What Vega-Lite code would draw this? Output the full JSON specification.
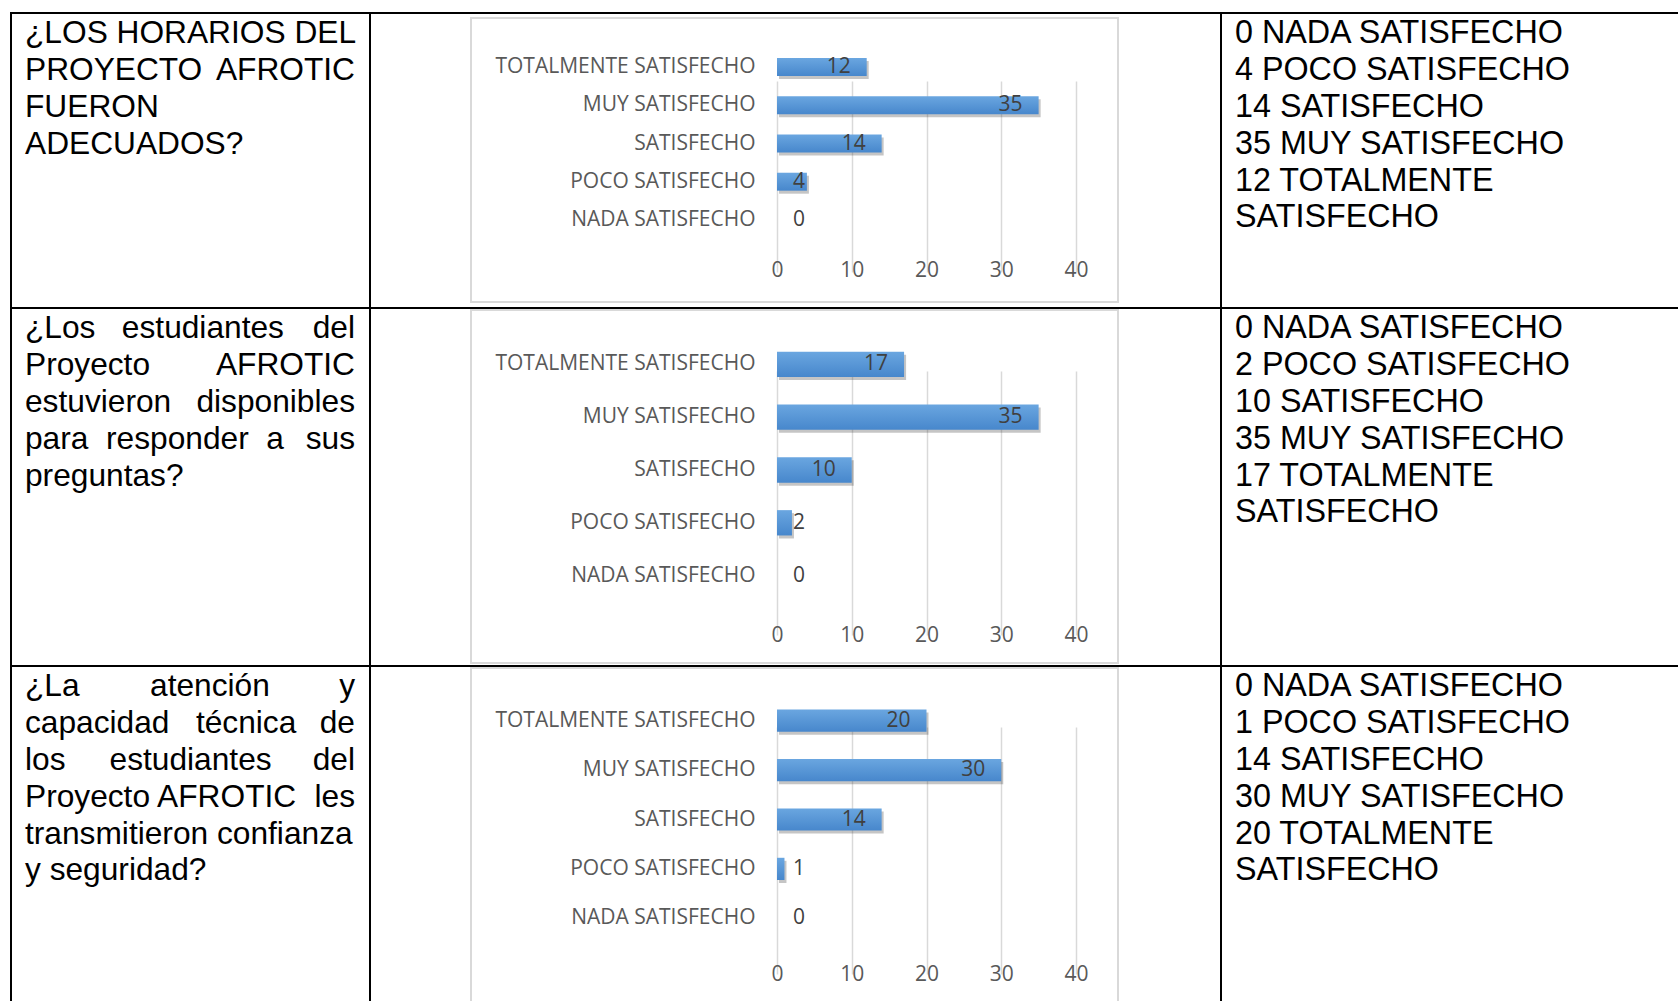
{
  "$schema": "https://vega.github.io/schema/vega-lite/v6.json",
  "padding": {"left": 10, "top": 12, "right": 0, "bottom": 0},
  "background": "white",
  "config": {"view": {"stroke": null}, "concat": {"spacing": 0}},
  "datasets": {
    "bars": [
      {"row": 1, "cat": "NADA SATISFECHO", "value": 0},
      {"row": 1, "cat": "POCO SATISFECHO", "value": 4},
      {"row": 1, "cat": "SATISFECHO", "value": 14},
      {"row": 1, "cat": "MUY SATISFECHO", "value": 35},
      {"row": 1, "cat": "TOTALMENTE SATISFECHO", "value": 12},
      {"row": 2, "cat": "NADA SATISFECHO", "value": 0},
      {"row": 2, "cat": "POCO SATISFECHO", "value": 2},
      {"row": 2, "cat": "SATISFECHO", "value": 10},
      {"row": 2, "cat": "MUY SATISFECHO", "value": 35},
      {"row": 2, "cat": "TOTALMENTE SATISFECHO", "value": 17},
      {"row": 3, "cat": "NADA SATISFECHO", "value": 0},
      {"row": 3, "cat": "POCO SATISFECHO", "value": 1},
      {"row": 3, "cat": "SATISFECHO", "value": 14},
      {"row": 3, "cat": "MUY SATISFECHO", "value": 30},
      {"row": 3, "cat": "TOTALMENTE SATISFECHO", "value": 20}
    ],
    "q": [
      {"row": 1, "line": 1, "left": "¿LOS HORARIOS DEL"},
      {"row": 1, "line": 2, "left": "PROYECTO", "right": "AFROTIC"},
      {"row": 1, "line": 3, "left": "FUERON"},
      {"row": 1, "line": 4, "left": "ADECUADOS?"},
      {"row": 2, "line": 1, "left": "¿Los\u00a0\u00a0\u00a0estudiantes", "right": "del"},
      {"row": 2, "line": 2, "left": "Proyecto", "right": "AFROTIC"},
      {"row": 2, "line": 3, "left": "estuvieron", "right": "disponibles"},
      {"row": 2, "line": 4, "left": "para\u00a0\u00a0responder\u00a0\u00a0a", "right": "sus"},
      {"row": 2, "line": 5, "left": "preguntas?"},
      {"row": 3, "line": 1, "left": "¿La\u00a0\u00a0\u00a0\u00a0\u00a0\u00a0\u00a0\u00a0atención", "right": "y"},
      {"row": 3, "line": 2, "left": "capacidad\u00a0\u00a0\u00a0técnica", "right": "de"},
      {"row": 3, "line": 3, "left": "los\u00a0\u00a0\u00a0\u00a0\u00a0estudiantes", "right": "del"},
      {"row": 3, "line": 4, "left": "Proyecto AFROTIC", "right": "les"},
      {"row": 3, "line": 5, "left": "transmitieron confianza"},
      {"row": 3, "line": 6, "left": "y seguridad?"}
    ],
    "a": [
      {"row": 1, "line": 1, "text": "0 NADA SATISFECHO"},
      {"row": 1, "line": 2, "text": "4 POCO SATISFECHO"},
      {"row": 1, "line": 3, "text": "14 SATISFECHO"},
      {"row": 1, "line": 4, "text": "35 MUY SATISFECHO"},
      {"row": 1, "line": 5, "text": "12 TOTALMENTE"},
      {"row": 1, "line": 6, "text": "SATISFECHO"},
      {"row": 2, "line": 1, "text": "0 NADA SATISFECHO"},
      {"row": 2, "line": 2, "text": "2 POCO SATISFECHO"},
      {"row": 2, "line": 3, "text": "10 SATISFECHO"},
      {"row": 2, "line": 4, "text": "35 MUY SATISFECHO"},
      {"row": 2, "line": 5, "text": "17 TOTALMENTE"},
      {"row": 2, "line": 6, "text": "SATISFECHO"},
      {"row": 3, "line": 1, "text": "0 NADA SATISFECHO"},
      {"row": 3, "line": 2, "text": "1 POCO SATISFECHO"},
      {"row": 3, "line": 3, "text": "14 SATISFECHO"},
      {"row": 3, "line": 4, "text": "30 MUY SATISFECHO"},
      {"row": 3, "line": 5, "text": "20 TOTALMENTE"},
      {"row": 3, "line": 6, "text": "SATISFECHO"}
    ]
  },
  "spacing": 0,
  "vconcat": [
    {"width": 1668, "height": 2, "data": {"values": []}, "mark": "point", "view": {"fill": "black", "stroke": null}},
    {
      "spacing": 0,
      "hconcat": [
        {"width": 2, "height": 293, "data": {"values": []}, "mark": "point", "view": {"fill": "black", "stroke": null}},
        {
          "width": 357, "height": 293,
          "data": {"name": "q"},
          "transform": [{"filter": "datum.row === 1"}],
          "encoding": {"y": {"field": "line", "type": "quantitative", "scale": {"domain": [0, 1], "range": [0, 36.9], "zero": false, "nice": false}, "axis": null}},
          "layer": [
            {"mark": {"type": "text", "align": "left", "baseline": "bottom", "dx": 13, "dy": -1, "font": "Liberation Sans", "fontSize": 31.7, "color": "black"},
             "encoding": {"x": {"value": 0}, "text": {"field": "left"}}},
            {"transform": [{"filter": "isValid(datum.right)"}],
             "mark": {"type": "text", "align": "right", "baseline": "bottom", "dx": -14, "dy": -1, "font": "Liberation Sans", "fontSize": 31.7, "color": "black"},
             "encoding": {"x": {"value": "width"}, "text": {"field": "right"}}}
          ]
        },
        {"width": 2, "height": 293, "data": {"values": []}, "mark": "point", "view": {"fill": "black", "stroke": null}},
        {
          "spacing": 0,
          "vconcat": [
            {"width": 849, "height": 3, "data": {"values": []}, "mark": "point"},
            {
              "spacing": 0,
              "hconcat": [
                {"width": 99, "height": 286, "data": {"values": []}, "mark": "point"},
                {"width": 2, "height": 286, "data": {"values": []}, "mark": "point", "view": {"fill": "#d9d9d9", "stroke": null}},
                {
                  "spacing": 0,
                  "vconcat": [
                    {"width": 645, "height": 2, "data": {"values": []}, "mark": "point", "view": {"fill": "#d9d9d9", "stroke": null}},
                    {
                      "width": 645, "height": 282,
                      "data": {"name": "bars"},
                      "transform": [{"filter": "datum.row === 1"}],
                      "encoding": {
                        "y": {"field": "cat", "type": "nominal",
                              "scale": {"domain": ["TOTALMENTE SATISFECHO", "MUY SATISFECHO", "SATISFECHO", "POCO SATISFECHO", "NADA SATISFECHO"], "range": [29, 220], "paddingInner": 0.53, "paddingOuter": 0.265},
                              "axis": {"title": null, "domain": false, "ticks": false, "tickSize": 0, "labelPadding": 22, "offset": -305, "labelFont": "Open Sans", "labelFontSize": 21, "labelColor": "#595959", "labelLimit": 500}},
                        "x": {"field": "value", "type": "quantitative", "scale": {"domain": [0, 40], "range": [305, 604], "nice": false},
                              "axis": {"title": null, "values": [0, 10, 20, 30, 40], "domain": false, "ticks": false, "tickSize": 0, "labelPadding": 0, "labelBaseline": "middle", "offset": -30.5, "labelFont": "Open Sans", "labelFontSize": 21, "labelColor": "#595959", "labelFlush": false, "grid": true, "gridColor": "#d9d9d9", "gridWidth": 1.5}}
                      },
                      "layer": [
                        {"mark": {"type": "bar", "color": "#404040", "opacity": 0.3, "xOffset": 2, "x2Offset": 2, "yOffset": 3, "y2Offset": 3}},
                        {"mark": {"type": "bar", "color": {"gradient": "linear", "x1": 0, "y1": 0, "x2": 0, "y2": 1, "stops": [{"offset": 0, "color": "#6AA6E0"}, {"offset": 1, "color": "#4787CC"}]}}},
                        {"transform": [{"filter": "datum.value >= 6"}],
                         "mark": {"type": "text", "align": "right", "baseline": "middle", "dx": -16, "font": "Open Sans", "fontSize": 21, "color": "#404040"},
                         "encoding": {"text": {"field": "value", "type": "quantitative"}}},
                        {"transform": [{"filter": "datum.value < 6"}],
                         "mark": {"type": "text", "align": "center", "baseline": "middle", "dx": 22, "font": "Open Sans", "fontSize": 21, "color": "#404040"},
                         "encoding": {"x": {"datum": 0, "type": "quantitative", "scale": {"domain": [0, 40], "range": [305, 604], "nice": false},
                              "axis": {"title": null, "values": [0, 10, 20, 30, 40], "domain": false, "ticks": false, "tickSize": 0, "labelPadding": 0, "labelBaseline": "middle", "offset": -30.5, "labelFont": "Open Sans", "labelFontSize": 21, "labelColor": "#595959", "labelFlush": false, "grid": true, "gridColor": "#d9d9d9", "gridWidth": 1.5}},
                                      "text": {"field": "value", "type": "quantitative"}}}
                      ]
                    },
                    {"width": 645, "height": 2, "data": {"values": []}, "mark": "point", "view": {"fill": "#d9d9d9", "stroke": null}}
                  ]
                },
                {"width": 2, "height": 286, "data": {"values": []}, "mark": "point", "view": {"fill": "#d9d9d9", "stroke": null}},
                {"width": 101, "height": 286, "data": {"values": []}, "mark": "point"}
              ]
            },
            {"width": 849, "height": 4, "data": {"values": []}, "mark": "point"}
          ]
        },
        {"width": 2, "height": 293, "data": {"values": []}, "mark": "point", "view": {"fill": "black", "stroke": null}},
        {
          "width": 456, "height": 293,
          "data": {"name": "a"},
          "transform": [{"filter": "datum.row === 1"}],
          "mark": {"type": "text", "align": "left", "baseline": "bottom", "dx": 13, "dy": -1, "font": "Liberation Sans", "fontSize": 32.3, "color": "black"},
          "encoding": {
            "x": {"value": 0},
            "y": {"field": "line", "type": "quantitative", "scale": {"domain": [0, 1], "range": [0, 36.9], "zero": false, "nice": false}, "axis": null},
            "text": {"field": "text"}
          }
        }
      ]
    },
    {"width": 1668, "height": 2, "data": {"values": []}, "mark": "point", "view": {"fill": "black", "stroke": null}},
    {
      "spacing": 0,
      "hconcat": [
        {"width": 2, "height": 356, "data": {"values": []}, "mark": "point", "view": {"fill": "black", "stroke": null}},
        {
          "width": 357, "height": 356,
          "data": {"name": "q"},
          "transform": [{"filter": "datum.row === 2"}],
          "encoding": {"y": {"field": "line", "type": "quantitative", "scale": {"domain": [0, 1], "range": [0, 36.9], "zero": false, "nice": false}, "axis": null}},
          "layer": [
            {"mark": {"type": "text", "align": "left", "baseline": "bottom", "dx": 13, "dy": -1, "font": "Liberation Sans", "fontSize": 31.7, "color": "black"},
             "encoding": {"x": {"value": 0}, "text": {"field": "left"}}},
            {"transform": [{"filter": "isValid(datum.right)"}],
             "mark": {"type": "text", "align": "right", "baseline": "bottom", "dx": -14, "dy": -1, "font": "Liberation Sans", "fontSize": 31.7, "color": "black"},
             "encoding": {"x": {"value": "width"}, "text": {"field": "right"}}}
          ]
        },
        {"width": 2, "height": 356, "data": {"values": []}, "mark": "point", "view": {"fill": "black", "stroke": null}},
        {
          "spacing": 0,
          "vconcat": [
            {
              "spacing": 0,
              "hconcat": [
                {"width": 99, "height": 355, "data": {"values": []}, "mark": "point"},
                {"width": 2, "height": 355, "data": {"values": []}, "mark": "point", "view": {"fill": "#d9d9d9", "stroke": null}},
                {
                  "spacing": 0,
                  "vconcat": [
                    {"width": 645, "height": 2, "data": {"values": []}, "mark": "point", "view": {"fill": "#d9d9d9", "stroke": null}},
                    {
                      "width": 645, "height": 351,
                      "data": {"name": "bars"},
                      "transform": [{"filter": "datum.row === 2"}],
                      "encoding": {
                        "y": {"field": "cat", "type": "nominal",
                              "scale": {"domain": ["TOTALMENTE SATISFECHO", "MUY SATISFECHO", "SATISFECHO", "POCO SATISFECHO", "NADA SATISFECHO"], "range": [27, 291], "paddingInner": 0.52, "paddingOuter": 0.26},
                              "axis": {"title": null, "domain": false, "ticks": false, "tickSize": 0, "labelPadding": 22, "offset": -305, "labelFont": "Open Sans", "labelFontSize": 21, "labelColor": "#595959", "labelLimit": 500}},
                        "x": {"field": "value", "type": "quantitative", "scale": {"domain": [0, 40], "range": [305, 604], "nice": false},
                              "axis": {"title": null, "values": [0, 10, 20, 30, 40], "domain": false, "ticks": false, "tickSize": 0, "labelPadding": 0, "labelBaseline": "middle", "offset": -27, "labelFont": "Open Sans", "labelFontSize": 21, "labelColor": "#595959", "labelFlush": false, "grid": true, "gridColor": "#d9d9d9", "gridWidth": 1.5}}
                      },
                      "layer": [
                        {"mark": {"type": "bar", "color": "#404040", "opacity": 0.3, "xOffset": 2, "x2Offset": 2, "yOffset": 3, "y2Offset": 3}},
                        {"mark": {"type": "bar", "color": {"gradient": "linear", "x1": 0, "y1": 0, "x2": 0, "y2": 1, "stops": [{"offset": 0, "color": "#6AA6E0"}, {"offset": 1, "color": "#4787CC"}]}}},
                        {"transform": [{"filter": "datum.value >= 6"}],
                         "mark": {"type": "text", "align": "right", "baseline": "middle", "dx": -16, "font": "Open Sans", "fontSize": 21, "color": "#404040"},
                         "encoding": {"text": {"field": "value", "type": "quantitative"}}},
                        {"transform": [{"filter": "datum.value < 6"}],
                         "mark": {"type": "text", "align": "center", "baseline": "middle", "dx": 22, "font": "Open Sans", "fontSize": 21, "color": "#404040"},
                         "encoding": {"x": {"datum": 0, "type": "quantitative", "scale": {"domain": [0, 40], "range": [305, 604], "nice": false},
                              "axis": {"title": null, "values": [0, 10, 20, 30, 40], "domain": false, "ticks": false, "tickSize": 0, "labelPadding": 0, "labelBaseline": "middle", "offset": -27, "labelFont": "Open Sans", "labelFontSize": 21, "labelColor": "#595959", "labelFlush": false, "grid": true, "gridColor": "#d9d9d9", "gridWidth": 1.5}},
                                      "text": {"field": "value", "type": "quantitative"}}}
                      ]
                    },
                    {"width": 645, "height": 2, "data": {"values": []}, "mark": "point", "view": {"fill": "#d9d9d9", "stroke": null}}
                  ]
                },
                {"width": 2, "height": 355, "data": {"values": []}, "mark": "point", "view": {"fill": "#d9d9d9", "stroke": null}},
                {"width": 101, "height": 355, "data": {"values": []}, "mark": "point"}
              ]
            },
            {"width": 849, "height": 1, "data": {"values": []}, "mark": "point"}
          ]
        },
        {"width": 2, "height": 356, "data": {"values": []}, "mark": "point", "view": {"fill": "black", "stroke": null}},
        {
          "width": 456, "height": 356,
          "data": {"name": "a"},
          "transform": [{"filter": "datum.row === 2"}],
          "mark": {"type": "text", "align": "left", "baseline": "bottom", "dx": 13, "dy": -1, "font": "Liberation Sans", "fontSize": 32.3, "color": "black"},
          "encoding": {
            "x": {"value": 0},
            "y": {"field": "line", "type": "quantitative", "scale": {"domain": [0, 1], "range": [0, 36.9], "zero": false, "nice": false}, "axis": null},
            "text": {"field": "text"}
          }
        }
      ]
    },
    {"width": 1668, "height": 2, "data": {"values": []}, "mark": "point", "view": {"fill": "black", "stroke": null}},
    {
      "spacing": 0,
      "hconcat": [
        {"width": 2, "height": 334, "data": {"values": []}, "mark": "point", "view": {"fill": "black", "stroke": null}},
        {
          "width": 357, "height": 334,
          "data": {"name": "q"},
          "transform": [{"filter": "datum.row === 3"}],
          "encoding": {"y": {"field": "line", "type": "quantitative", "scale": {"domain": [0, 1], "range": [0, 36.9], "zero": false, "nice": false}, "axis": null}},
          "layer": [
            {"mark": {"type": "text", "align": "left", "baseline": "bottom", "dx": 13, "dy": -1, "font": "Liberation Sans", "fontSize": 31.7, "color": "black"},
             "encoding": {"x": {"value": 0}, "text": {"field": "left"}}},
            {"transform": [{"filter": "isValid(datum.right)"}],
             "mark": {"type": "text", "align": "right", "baseline": "bottom", "dx": -14, "dy": -1, "font": "Liberation Sans", "fontSize": 31.7, "color": "black"},
             "encoding": {"x": {"value": "width"}, "text": {"field": "right"}}}
          ]
        },
        {"width": 2, "height": 334, "data": {"values": []}, "mark": "point", "view": {"fill": "black", "stroke": null}},
        {
          "spacing": 0,
          "hconcat": [
            {"width": 99, "height": 334, "data": {"values": []}, "mark": "point"},
            {"width": 2, "height": 334, "data": {"values": []}, "mark": "point", "view": {"fill": "#d9d9d9", "stroke": null}},
            {
              "spacing": 0,
              "vconcat": [
                {"width": 645, "height": 2, "data": {"values": []}, "mark": "point", "view": {"fill": "#d9d9d9", "stroke": null}},
                {
                  "width": 645, "height": 332,
                  "data": {"name": "bars"},
                  "transform": [{"filter": "datum.row === 3"}],
                  "encoding": {
                    "y": {"field": "cat", "type": "nominal",
                          "scale": {"domain": ["TOTALMENTE SATISFECHO", "MUY SATISFECHO", "SATISFECHO", "POCO SATISFECHO", "NADA SATISFECHO"], "range": [27, 274], "paddingInner": 0.55, "paddingOuter": 0.275},
                          "axis": {"title": null, "domain": false, "ticks": false, "tickSize": 0, "labelPadding": 22, "offset": -305, "labelFont": "Open Sans", "labelFontSize": 21, "labelColor": "#595959", "labelLimit": 500}},
                    "x": {"field": "value", "type": "quantitative", "scale": {"domain": [0, 40], "range": [305, 604], "nice": false},
                          "axis": {"title": null, "values": [0, 10, 20, 30, 40], "domain": false, "ticks": false, "tickSize": 0, "labelPadding": 0, "labelBaseline": "middle", "offset": -26.5, "labelFont": "Open Sans", "labelFontSize": 21, "labelColor": "#595959", "labelFlush": false, "grid": true, "gridColor": "#d9d9d9", "gridWidth": 1.5}}
                  },
                  "layer": [
                    {"mark": {"type": "bar", "color": "#404040", "opacity": 0.3, "xOffset": 2, "x2Offset": 2, "yOffset": 3, "y2Offset": 3}},
                    {"mark": {"type": "bar", "color": {"gradient": "linear", "x1": 0, "y1": 0, "x2": 0, "y2": 1, "stops": [{"offset": 0, "color": "#6AA6E0"}, {"offset": 1, "color": "#4787CC"}]}}},
                    {"transform": [{"filter": "datum.value >= 6"}],
                     "mark": {"type": "text", "align": "right", "baseline": "middle", "dx": -16, "font": "Open Sans", "fontSize": 21, "color": "#404040"},
                     "encoding": {"text": {"field": "value", "type": "quantitative"}}},
                    {"transform": [{"filter": "datum.value < 6"}],
                     "mark": {"type": "text", "align": "center", "baseline": "middle", "dx": 22, "font": "Open Sans", "fontSize": 21, "color": "#404040"},
                     "encoding": {"x": {"datum": 0, "type": "quantitative", "scale": {"domain": [0, 40], "range": [305, 604], "nice": false},
                          "axis": {"title": null, "values": [0, 10, 20, 30, 40], "domain": false, "ticks": false, "tickSize": 0, "labelPadding": 0, "labelBaseline": "middle", "offset": -26.5, "labelFont": "Open Sans", "labelFontSize": 21, "labelColor": "#595959", "labelFlush": false, "grid": true, "gridColor": "#d9d9d9", "gridWidth": 1.5}},
                                  "text": {"field": "value", "type": "quantitative"}}}
                  ]
                }
              ]
            },
            {"width": 2, "height": 334, "data": {"values": []}, "mark": "point", "view": {"fill": "#d9d9d9", "stroke": null}},
            {"width": 101, "height": 334, "data": {"values": []}, "mark": "point"}
          ]
        },
        {"width": 2, "height": 334, "data": {"values": []}, "mark": "point", "view": {"fill": "black", "stroke": null}},
        {
          "width": 456, "height": 334,
          "data": {"name": "a"},
          "transform": [{"filter": "datum.row === 3"}],
          "mark": {"type": "text", "align": "left", "baseline": "bottom", "dx": 13, "dy": -1, "font": "Liberation Sans", "fontSize": 32.3, "color": "black"},
          "encoding": {
            "x": {"value": 0},
            "y": {"field": "line", "type": "quantitative", "scale": {"domain": [0, 1], "range": [0, 36.9], "zero": false, "nice": false}, "axis": null},
            "text": {"field": "text"}
          }
        }
      ]
    }
  ]
}
